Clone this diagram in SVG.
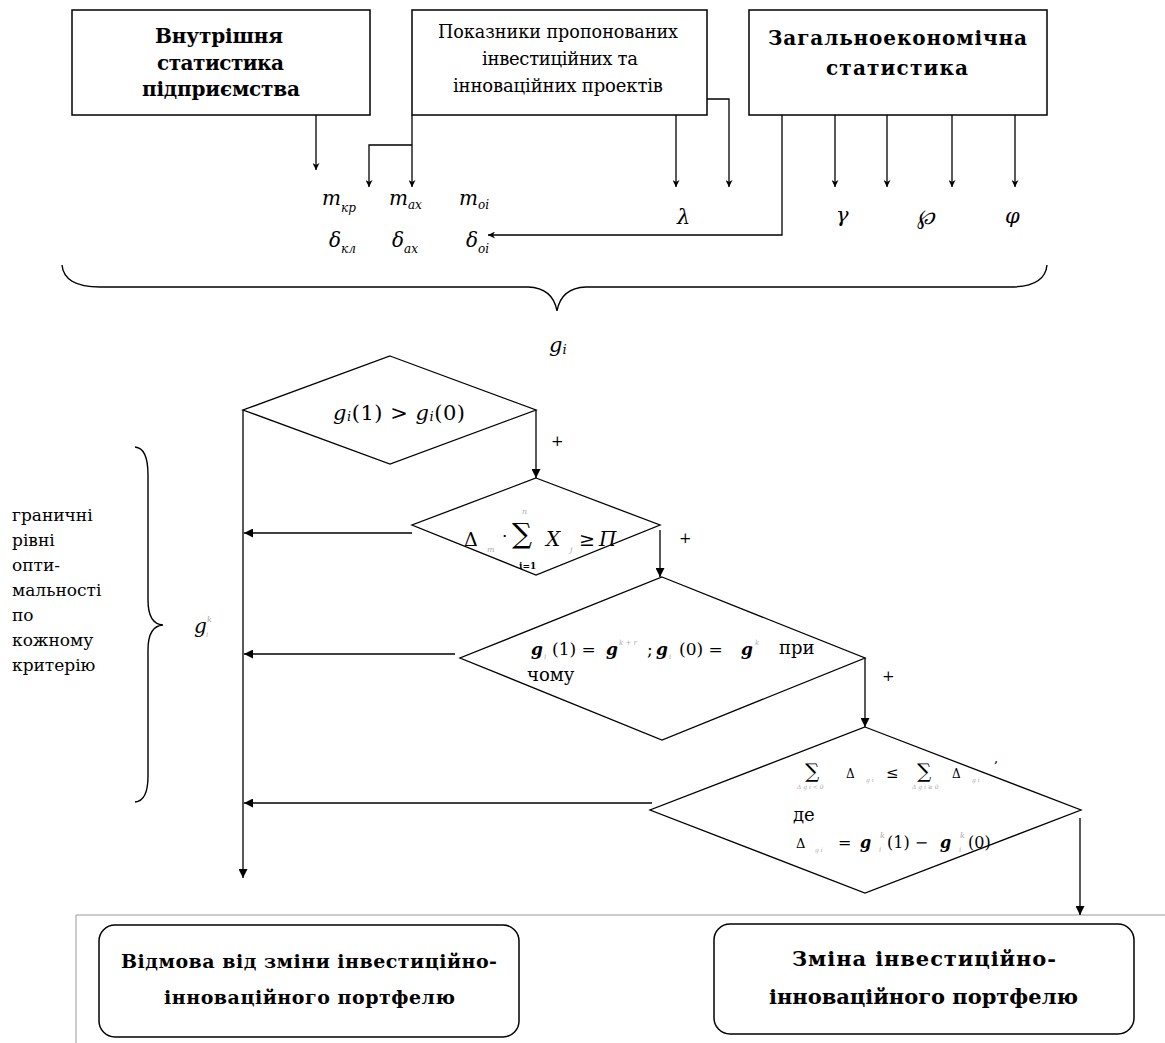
<svg xmlns="http://www.w3.org/2000/svg" width="1165" height="1043" viewBox="0 0 1165 1043" font-family="'DejaVu Serif', serif">
<defs>
<marker id="ah" viewBox="0 0 10 10" refX="10" refY="5" markerWidth="11" markerHeight="9" markerUnits="userSpaceOnUse" orient="auto"><path d="M0,0 L10,5 L0,10 z" fill="#000"/></marker>
<marker id="as" viewBox="0 0 10 10" refX="10" refY="5" markerWidth="8" markerHeight="7" markerUnits="userSpaceOnUse" orient="auto"><path d="M0,0 L10,5 L0,10 L3,5 z" fill="#000"/></marker>
</defs>
<style>
text{font-family:'DejaVu Serif',serif;fill:#000}
.box{fill:#fff;stroke:#000;stroke-width:1.5}
.dia{fill:#fff;stroke:#000;stroke-width:1.3}
.ln{fill:none;stroke:#000;stroke-width:1.3}
.br{fill:none;stroke:#000;stroke-width:1.4}
.tb{font-weight:bold}
.m{font-style:italic}
.g{fill:#aaa}
</style>
<rect width="1165" height="1043" fill="#fff"/>

<g id="frame">
<path d="M76,1043 L76,915 L1165,915" fill="none" stroke="#999" stroke-width="1"/>
</g>

<g id="node-internal">
<rect class="box" x="72" y="10" width="298" height="105"/>
<text class="tb" x="155" y="43" font-size="20" textLength="128" lengthAdjust="spacing">Внутрішня</text>
<text class="tb" x="157" y="70" font-size="20" textLength="127" lengthAdjust="spacing">статистика</text>
<text class="tb" x="142" y="96" font-size="20" textLength="158" lengthAdjust="spacing">підприємства</text>
</g>

<g id="node-projects">
<rect class="box" x="412" y="10" width="295" height="105"/>
<text x="438" y="38" font-size="18" textLength="240" lengthAdjust="spacingAndGlyphs">Показники пропонованих</text>
<text x="482" y="65" font-size="18" textLength="156" lengthAdjust="spacing">інвестиційних  та</text>
<text x="453" y="92" font-size="18" textLength="210" lengthAdjust="spacing">інноваційних  проектів</text>
</g>

<g id="node-general">
<rect class="box" x="749" y="10" width="298" height="105"/>
<text class="tb" x="768" y="45" font-size="20" textLength="259" lengthAdjust="spacing">Загальноекономічна</text>
<text class="tb" x="826" y="75" font-size="20" textLength="142" lengthAdjust="spacing">статистика</text>
</g>

<g id="params">
<text class="m" x="322" y="205" font-size="20">m<tspan font-size="12" dy="7">кр</tspan></text>
<text class="m" x="389" y="205" font-size="20">m<tspan font-size="12" dy="4">ах</tspan></text>
<text class="m" x="459" y="205" font-size="20">m<tspan font-size="12" dy="4">оі</tspan></text>
<text class="m" x="329" y="247" font-size="20">δ<tspan font-size="12" dy="6">кл</tspan></text>
<text class="m" x="392" y="247" font-size="20">δ<tspan font-size="12" dy="6">ах</tspan></text>
<text class="m" x="466" y="247" font-size="20">δ<tspan font-size="12" dy="6">оі</tspan></text>
<text class="m" x="677" y="224" font-size="21">λ</text>
<text class="m" x="836" y="222" font-size="21">γ</text>
<text class="m" x="917" y="224" font-size="21">℘</text>
<text class="m" x="1005" y="223" font-size="21">φ</text>
<text class="m" x="549" y="352" font-size="21">g<tspan font-size="13" dy="2">i</tspan></text>
</g>

<g id="brace-top">
<path class="br" d="M62,265 Q64,287 100,287 L528,287 Q553,288 557,311 Q561,288 586,287 L1010,287 Q1045,287 1047,265"/>
</g>

<g id="node-d1">
<polygon class="dia" points="390,356 536,410 390,464 243,410"/>
<text x="333" y="420" font-size="21" textLength="132" lengthAdjust="spacing"><tspan font-style="italic">g</tspan><tspan font-size="13" font-style="italic" dy="1">i</tspan><tspan dy="-1">(1) &gt; </tspan><tspan font-style="italic">g</tspan><tspan font-size="13" font-style="italic" dy="1">i</tspan><tspan dy="-1">(0)</tspan></text>
</g>

<g id="node-d2">
<polygon class="dia" points="536,478 660,525 536,575 412,525"/>
<text x="464" y="546" font-size="19">Δ</text>
<text class="m g" x="487" y="552" font-size="8">m</text>
<text x="502" y="542" font-size="17">·</text>
<text x="512" y="543" font-size="28">∑</text>
<text class="m g" x="522" y="514" font-size="8">n</text>
<text class="tb" x="519" y="569" font-size="9">i=1</text>
<text class="m" x="546" y="546" font-size="20">X</text>
<text class="m g" x="570" y="552" font-size="8">j</text>
<text x="579" y="546" font-size="19">≥</text>
<text class="m" x="599" y="546" font-size="20">П</text>
</g>

<g id="node-d3">
<polygon class="dia" points="662,577 865,658 662,740 460,658"/>
<text class="m tb" x="531" y="655" font-size="17">g</text>
<text class="m g" x="544" y="659" font-size="7">i</text>
<text x="552" y="655" font-size="17">(1) =</text>
<text class="m tb" x="606" y="655" font-size="17">g</text>
<text class="m g" x="619" y="645" font-size="7">k + r</text>
<text x="647" y="655" font-size="17">;</text>
<text class="m tb" x="656" y="655" font-size="17">g</text>
<text class="m g" x="669" y="659" font-size="7">i</text>
<text x="679" y="655" font-size="17">(0) =</text>
<text class="m tb" x="741" y="655" font-size="17">g</text>
<text class="m g" x="755" y="645" font-size="7">k</text>
<text x="779" y="654" font-size="18">при</text>
<text x="527" y="681" font-size="18">чому</text>
</g>

<g id="node-d4">
<polygon class="dia" points="865,727 1081,810 865,893 650,810"/>
<text x="805" y="778" font-size="20">∑</text>
<text x="846" y="778" font-size="12">Δ</text>
<text class="m g" x="866" y="782" font-size="6">g i</text>
<text x="886" y="778" font-size="15">≤</text>
<text x="917" y="778" font-size="20">∑</text>
<text x="952" y="778" font-size="12">Δ</text>
<text class="m g" x="972" y="782" font-size="6">g i</text>
<text class="m g" x="797" y="789" font-size="6">Δ  g i &lt; 0</text>
<text class="m g" x="912" y="789" font-size="6">Δ  g i ≥ 0</text>
<text x="994" y="762" font-size="13">,</text>
<text x="793" y="821" font-size="18">де</text>
<text x="796" y="848" font-size="13">Δ</text>
<text class="m g" x="815" y="852" font-size="6">g i</text>
<text x="838" y="848" font-size="16">=</text>
<text class="m tb" x="860" y="848" font-size="16">g</text>
<text class="m g" x="880" y="838" font-size="8">k</text>
<text class="m g" x="879" y="852" font-size="7">i</text>
<text x="887" y="848" font-size="16">(1) −</text>
<text class="m tb" x="940" y="848" font-size="16">g</text>
<text class="m g" x="960" y="838" font-size="8">k</text>
<text class="m g" x="959" y="852" font-size="7">i</text>
<text x="968" y="848" font-size="16">(0)</text>
</g>

<g id="side-label">
<text x="12" y="521" font-size="17">граничні</text>
<text x="12" y="546" font-size="17">рівні</text>
<text x="12" y="571" font-size="17">опти-</text>
<text x="12" y="596" font-size="17">мальності</text>
<text x="12" y="621" font-size="17">по</text>
<text x="12" y="646" font-size="17">кожному</text>
<text x="12" y="671" font-size="17">критерію</text>
<path class="br" d="M135,447 Q148,448 148,475 L148,600 Q148,624 163,625 Q148,626 148,650 L148,776 Q148,801 135,802"/>
<text class="m" x="194" y="633" font-size="20">g</text>
<text class="m g" x="207" y="622" font-size="8">k</text>
<text class="m g" x="206" y="637" font-size="7">i</text>
</g>

<g id="node-reject">
<rect class="box" x="99" y="925" width="420" height="112" rx="16"/>
<text class="tb" x="121" y="968" font-size="19" textLength="376" lengthAdjust="spacing">Відмова від зміни інвестиційно-</text>
<text class="tb" x="164" y="1004" font-size="19" textLength="291" lengthAdjust="spacing">інноваційного портфелю</text>
</g>

<g id="node-change">
<rect class="box" x="714" y="924" width="420" height="110" rx="16"/>
<text class="tb" x="792" y="966" font-size="21" textLength="264" lengthAdjust="spacing">Зміна інвестиційно-</text>
<text class="tb" x="769" y="1004" font-size="21" textLength="309" lengthAdjust="spacing">інноваційного портфелю</text>
</g>

<g id="connectors">
<path class="ln" d="M316,115 L316,170" marker-end="url(#as)"/>
<path class="ln" d="M412,115 L412,187" marker-end="url(#as)"/>
<path class="ln" d="M412,145 L369,145 L369,187" marker-end="url(#as)"/>
<path class="ln" d="M676,115 L676,187" marker-end="url(#as)"/>
<path class="ln" d="M707,99 L729,99 L729,187" marker-end="url(#as)"/>
<path class="ln" d="M782,115 L782,235 L488,235" marker-end="url(#as)"/>
<path class="ln" d="M835,115 L835,187" marker-end="url(#as)"/>
<path class="ln" d="M887,115 L887,187" marker-end="url(#as)"/>
<path class="ln" d="M952,115 L952,187" marker-end="url(#as)"/>
<path class="ln" d="M1015,115 L1015,187" marker-end="url(#as)"/>
<path class="ln" d="M243,410 L243,878" marker-end="url(#ah)"/>
<path class="ln" d="M536,410 L536,478" marker-end="url(#ah)"/>
<path class="ln" d="M660,530 L660,577" marker-end="url(#ah)"/>
<path class="ln" d="M865,658 L865,727" marker-end="url(#ah)"/>
<path class="ln" d="M1080,818 L1080,915" marker-end="url(#ah)"/>
<path class="ln" d="M412,533 L244,533" marker-end="url(#ah)"/>
<path class="ln" d="M455,654 L244,654" marker-end="url(#ah)"/>
<path class="ln" d="M652,803 L244,803" marker-end="url(#ah)"/>
<text x="551" y="446" font-size="15">+</text>
<text x="679" y="543" font-size="15">+</text>
<text x="882" y="681" font-size="15">+</text>
</g>
</svg>
